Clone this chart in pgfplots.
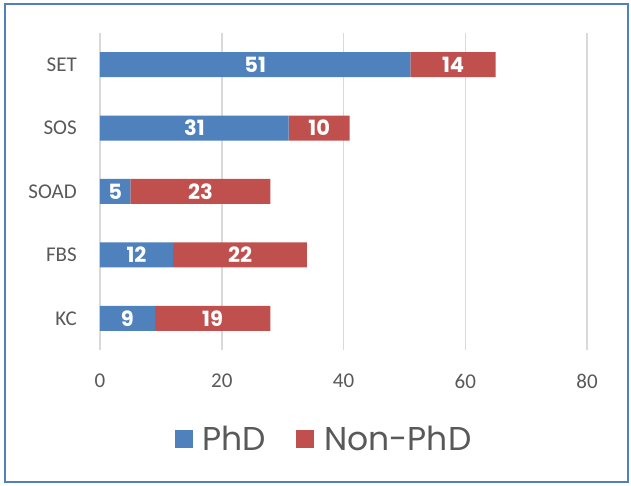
\documentclass[border=0pt]{standalone}
\usepackage{fontspec}
\setmainfont{Carlito}
\newfontfamily\poppins{Poppins}
\usepackage{pgfplots}
\pgfplotsset{compat=1.18}
\definecolor{phdblue}{HTML}{4F81BD}
\definecolor{nonred}{HTML}{C0504D}
\definecolor{gridgray}{HTML}{D9D9D9}
\definecolor{txtgray}{HTML}{595959}
\definecolor{frameblue}{HTML}{4F81BD}
\begin{document}
\begin{tikzpicture}
\useasboundingbox (-100pt,-136pt) rectangle (531pt,350pt);
\fill[white] (-100pt,-136pt) rectangle (531pt,350pt);
\draw[line width=2pt, frameblue] (-95pt,-132pt) rectangle (528pt,346pt);
\begin{axis}[
  at={(0pt,0pt)}, anchor=south west,
  scale only axis, width=487pt, height=317pt,
  xbar stacked, bar width=25pt,
  xmin=0, xmax=80, ymin=-0.5, ymax=4.5,
  xtick={0,20,40,60,80},
  ytick={0,1,2,3,4},
  yticklabels={KC,FBS,SOAD,SOS,SET},
  xmajorgrids, grid style={gridgray, line width=1.5pt},
  axis line style={draw=none},
  major tick length=0pt,
  tick label style={font=\fontsize{21}{21}\selectfont, text=txtgray},
  /pgf/number format/assume math mode=true,
  xticklabel style={anchor=center, yshift=-31pt},
  yticklabel style={anchor=east, inner sep=0pt, xshift=-23pt},
  legend style={at={(0.46,-0.281)}, anchor=center, draw=none, fill=none,
    legend columns=2, font=\poppins\fontsize{33}{33}\selectfont, text=txtgray,
    /tikz/every even column/.append style={column sep=28pt}},
  legend image code/.code={\fill[#1] (0pt,-9pt) rectangle (18pt,9pt); \path (26pt,0pt);},
]
\addplot[fill=phdblue, draw=none] coordinates {(9,0) (12,1) (5,2) (31,3) (51,4)};
\addplot[fill=nonred, draw=none] coordinates {(19,0) (22,1) (23,2) (10,3) (14,4)};
\legend{PhD, Non-PhD}
\end{axis}
\begin{axis}[
  at={(0pt,0pt)}, anchor=south west,
  scale only axis, width=487pt, height=317pt,
  xmin=0, xmax=80, ymin=-0.5, ymax=4.5,
  hide axis,
]
\addplot[only marks, mark=*, mark size=0pt, mark options={draw=none, fill=none},
  point meta=explicit symbolic,
  nodes near coords, nodes near coords align=center,
  every node near coord/.append style={font=\poppins\bfseries\fontsize{21}{21}\selectfont, text=white, anchor=center}]
  table[meta=label] {
x y label
4.5 0 9
18.5 0 19
6 1 12
23 1 22
2.5 2 5
16.5 2 23
15.5 3 31
36 3 10
25.5 4 51
58 4 14
};
\end{axis}
\end{tikzpicture}
\end{document}
